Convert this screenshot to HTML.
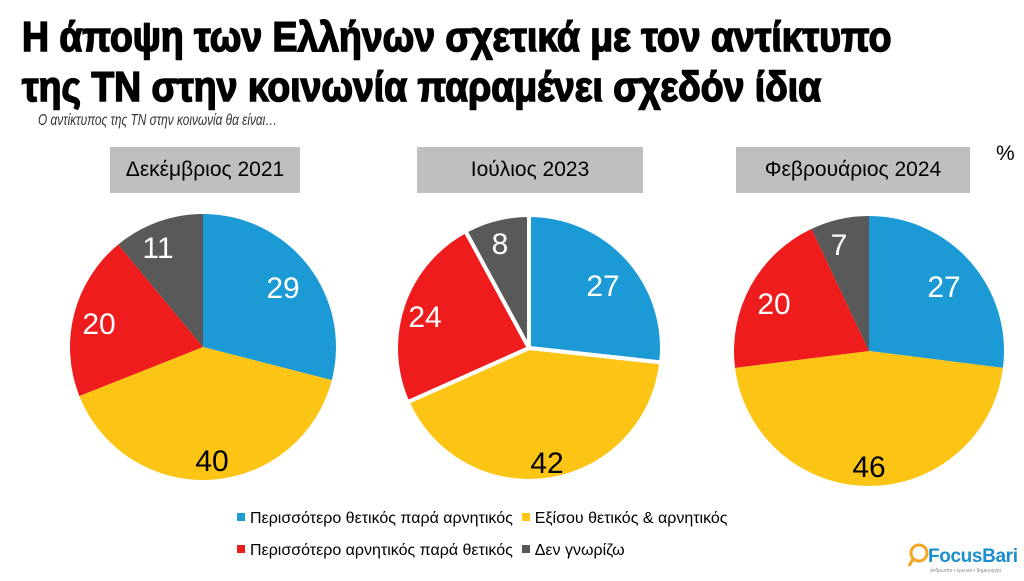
<!DOCTYPE html>
<html><head><meta charset="utf-8"><style>
body{margin:0;width:1024px;height:579px;background:#fff;overflow:hidden;position:relative;font-family:"Liberation Sans Narrow","Liberation Sans",sans-serif}
.t{position:absolute;white-space:nowrap;transform-origin:0 0}
.box{position:absolute;background:#bfbfbf;height:46px;top:147px;display:flex;align-items:center;justify-content:center;font-size:21px;color:#000}
.sq{display:inline-block;width:8px;height:8px;margin-right:5px;vertical-align:middle;position:relative;top:-2px}
</style></head><body>
<div class="t" style="left:22px;top:12px;font-family:'Liberation Sans',sans-serif;font-size:42px;font-weight:900;line-height:50px;-webkit-text-stroke:1.6px #000;transform:scaleX(0.89)">Η άποψη των Ελλήνων σχετικά με τον αντίκτυπο<br>της ΤΝ στην κοινωνία παραμένει σχεδόν ίδια</div>
<div class="t" style="left:38px;top:112px;font-size:16px;font-style:italic;color:#333;transform:scaleX(0.74)">Ο αντίκτυπος της ΤΝ στην κοινωνία θα είναι…</div>
<div class="box" style="left:110px;width:190px">Δεκέμβριος 2021</div>
<div class="box" style="left:417px;width:226px">Ιούλιος 2023</div>
<div class="box" style="left:736px;width:234px">Φεβρουάριος 2024</div>
<div class="t" style="left:996px;top:142px;font-size:21px">%</div>
<svg id="s" width="1024" height="579" style="position:absolute;left:0;top:0"></svg>
<div class="t" style="left:237px;top:510px;font-size:16px"><span class="sq" style="background:#1b9ad6"></span>Περισσότερο θετικός παρά αρνητικός &nbsp;<span class="sq" style="background:#fcc516"></span>Εξίσου θετικός &amp; αρνητικός</div>
<div class="t" style="left:237px;top:542px;font-size:16px"><span class="sq" style="background:#ee1c1c"></span>Περισσότερο αρνητικός παρά θετικός &nbsp;<span class="sq" style="background:#595959"></span>Δεν γνωρίζω</div>
<div class="t" style="left:908px;top:540px;width:112px;height:36px">
<svg width="112" height="36"><circle cx="11" cy="13" r="8" fill="none" stroke="#f5a623" stroke-width="3"/><line x1="5" y1="19" x2="1" y2="26" stroke="#f5a623" stroke-width="3"/>
<text x="20" y="22" font-family="Liberation Sans" font-weight="bold" font-size="19" fill="#1b8fd0" textLength="90">FocusBari</text>
<text x="22" y="32" font-size="5" fill="#888" font-family="Liberation Sans">άνθρωποι • έρευνα • δημιουργία</text></svg></div>
<script>
const C=["#1b9ad6","#fcc516","#ee1c1c","#595959"];
const pies=[{cx:203,cy:347,r:133,v:[29,40,20,11],l:[[283,287],[212,460],[99,323],[158,247]],sep:0},
{cx:529,cy:348,r:133,v:[27,42,24,8],l:[[603,285],[547,462],[425,316],[500,243]],sep:3},
{cx:869,cy:351,r:135,v:[27,46,20,7],l:[[944,286],[869,466],[774,303],[839,244]],sep:0}];
let h="";
for(const p of pies){let a=0;const tot=p.v.reduce((x,y)=>x+y);
p.v.forEach((v,i)=>{const a0=a,a1=a+v/tot*2*Math.PI;a=a1;
const x0=p.cx+p.r*Math.sin(a0),y0=p.cy-p.r*Math.cos(a0),x1=p.cx+p.r*Math.sin(a1),y1=p.cy-p.r*Math.cos(a1);
h+=`<path d="M${p.cx},${p.cy}L${x0},${y0}A${p.r},${p.r} 0 ${a1-a0>Math.PI?1:0} 1 ${x1},${y1}Z" fill="${C[i]}" ${p.sep?'stroke="#fff" stroke-width="4" stroke-linejoin="round"':''}/>`;});
p.v.forEach((v,i)=>{h+=`<text x="${p.l[i][0]}" y="${p.l[i][1]+11}" text-anchor="middle" font-family="Liberation Sans" font-size="30" fill="${i==1?'#000':'#fff'}">${v}</text>`;});}
document.getElementById("s").innerHTML=h;
</script>
</body></html>
